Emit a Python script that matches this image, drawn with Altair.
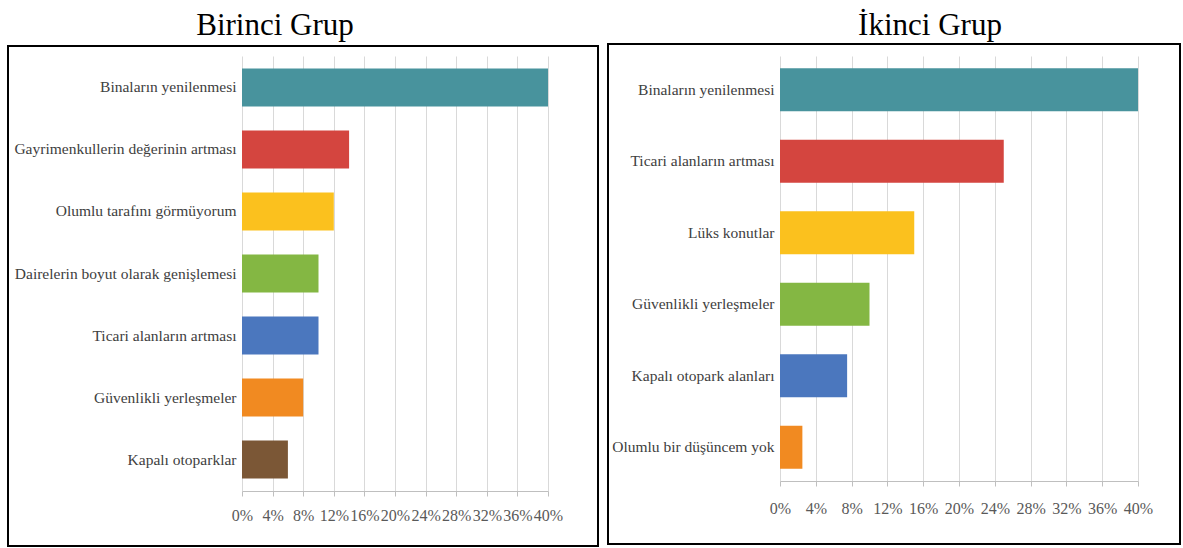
import altair as alt
import pandas as pd

# ---- data ----
g1_labels = ["Binaların yenilenmesi", "Gayrimenkullerin değerinin artması",
             "Olumlu tarafını görmüyorum", "Dairelerin boyut olarak genişlemesi",
             "Ticari alanların artması", "Güvenlikli yerleşmeler", "Kapalı otoparklar"]
g1_values = [40, 14, 12, 10, 10, 8, 6]
g1_colors = ["#48939D", "#D4453F", "#FBC11E", "#84B743", "#4B77BE", "#F18A21", "#7B5736"]

g2_labels = ["Binaların yenilenmesi", "Ticari alanların artması", "Lüks konutlar",
             "Güvenlikli yerleşmeler", "Kapalı otopark alanları", "Olumlu bir düşüncem yok"]
g2_values = [40, 25, 15, 10, 7.5, 2.5]
g2_colors = ["#48939D", "#D4453F", "#FBC11E", "#84B743", "#4B77BE", "#F18A21"]

tick_values = [0, 4, 8, 12, 16, 20, 24, 28, 32, 36, 40]

FONT = "Liberation Serif"


def panel(title, labels, values, colors, width, height, pad_inner, pad_outer,
          frame_box, title_dx, title_offset, x_label_pad):
    df = pd.DataFrame({"label": labels, "value": values})
    bars = alt.Chart(df).mark_bar().encode(
        y=alt.Y("label:N", sort=labels,
                scale=alt.Scale(paddingInner=pad_inner, paddingOuter=pad_outer),
                axis=alt.Axis(title=None, ticks=False, domain=False, grid=False,
                              labelPadding=6, labelFont=FONT, labelFontSize=15.5,
                              labelColor="#404040", labelLimit=400)),
        x=alt.X("value:Q", scale=alt.Scale(domain=[0, 40], nice=False),
                axis=alt.Axis(title=None, values=tick_values,
                              labelExpr="datum.value + '%'",
                              grid=True, gridColor="#d9d9d9", gridWidth=1,
                              domainColor="#bfbfbf", tickColor="#bfbfbf", tickSize=5,
                              labelOverlap=False, labelFlush=False, labelBound=False,
                              labelFont=FONT, labelFontSize=16, labelColor="#595959",
                              labelPadding=x_label_pad)),
        color=alt.Color("label:N", scale=alt.Scale(domain=labels, range=colors),
                        legend=None),
    )
    x0, x1, y0, y1 = frame_box
    frame = alt.Chart(pd.DataFrame({"f": [0]})).mark_rect(
        filled=False, stroke="black", strokeWidth=2
    ).encode(x=alt.value(x0), x2=alt.value(x1), y=alt.value(y0), y2=alt.value(y1))
    return alt.layer(frame, bars).properties(
        width=width, height=height,
        title=alt.Title(title, font=FONT, fontSize=31, fontWeight="normal",
                        color="black", anchor="middle", dx=title_dx,
                        offset=title_offset),
    )


left = panel("Birinci Grup", g1_labels, g1_values, g1_colors,
             width=306, height=435, pad_inner=0.387, pad_outer=0.2,
             frame_box=(-234, 356, -10, 490), title_dx=-120, title_offset=3,
             x_label_pad=11)
right = panel("İkinci Grup", g2_labels, g2_values, g2_colors,
              width=358, height=425, pad_inner=0.398, pad_outer=0.17,
              frame_box=(-172, 400, -12, 488), title_dx=-29, title_offset=1,
              x_label_pad=14)

chart = alt.hconcat(left, right, spacing=8).resolve_scale(
    color="independent"
).configure_view(stroke=None).properties(
    padding={"left": 7, "top": 10, "right": 0, "bottom": 0}
)

chart.save("out.html", embed_options={"renderer": "svg", "actions": False})
